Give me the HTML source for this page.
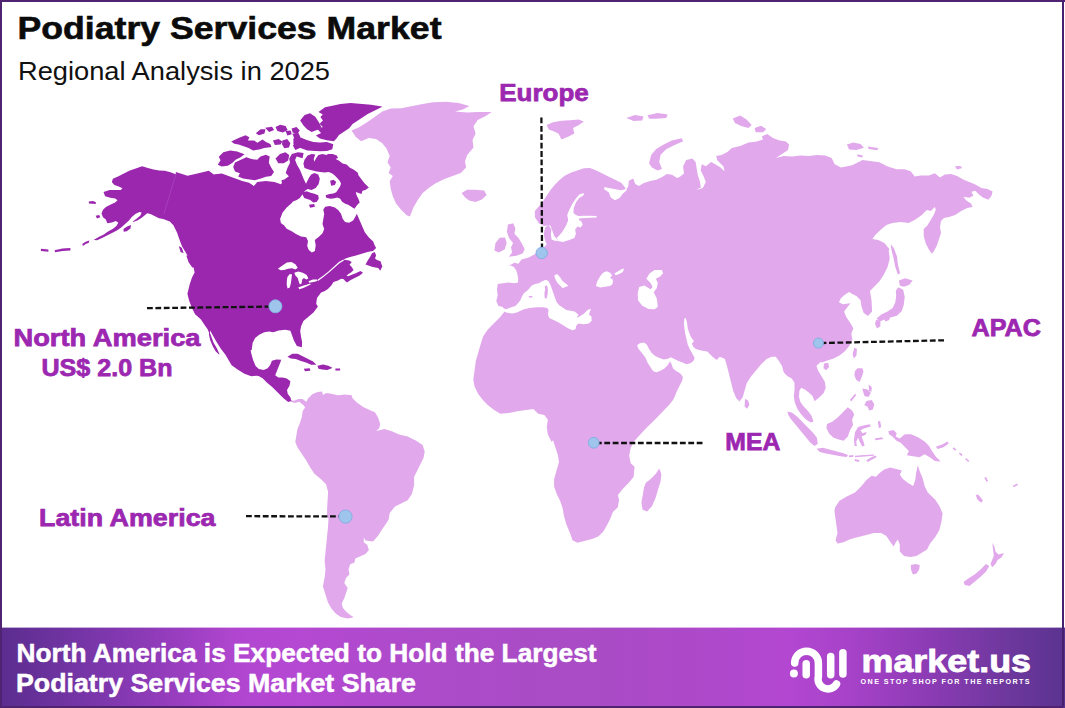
<!DOCTYPE html>
<html lang="en"><head><meta charset="utf-8"><title>Podiatry Services Market - Regional Analysis</title>
<style>
html,body{margin:0;padding:0;background:#fff;}
svg{display:block;}
text{font-family:"Liberation Sans",Arial,Helvetica,sans-serif;}
.b{font-weight:bold;}
.lab{font-weight:bold;fill:#9c27b0;font-size:24.3px;stroke:#9c27b0;stroke-width:0.75px;}
.dash{stroke:#111;stroke-width:2.3;stroke-dasharray:5.8 2.6;fill:none;}
.dot{fill:#9fc5ed;stroke:#86aee3;stroke-width:1;}
</style></head><body>
<svg width="1065" height="708" viewBox="0 0 1065 708">
<defs>
<linearGradient id="fg" x1="0" y1="0" x2="1" y2="0">
<stop offset="0" stop-color="#5b2d8f"/><stop offset="0.09" stop-color="#7a36aa"/><stop offset="0.17" stop-color="#9a3ec0"/><stop offset="0.22" stop-color="#b046cf"/><stop offset="0.27" stop-color="#b548d3"/><stop offset="0.40" stop-color="#ad4bc9"/><stop offset="0.55" stop-color="#a94cc5"/><stop offset="0.66" stop-color="#ae49ca"/><stop offset="0.74" stop-color="#b347d1"/><stop offset="0.80" stop-color="#a642c8"/><stop offset="0.86" stop-color="#913cb8"/><stop offset="0.94" stop-color="#70389f"/><stop offset="1" stop-color="#5a3390"/>
</linearGradient>
</defs>
<rect x="0" y="0" width="1065" height="708" fill="#fff"/>
<!-- map -->
<g id="map">
<path fill="#e1a9ec" fill-rule="evenodd" d="M657.6,112.9 647.6,115.2 649.1,118.7 656.2,118.7 666.2,118.1 667.7,114.6ZM642.2,120.4 643.6,116.6 635.0,115.1 626.3,118.1 633.6,121.0ZM740.2,115.5 732.8,118.6 734.9,122.9 741.2,126.0 748.5,128.1 751.7,124.9 746.5,119.6ZM755.7,132.3 763.1,132.3 766.3,129.0 761.0,125.8 754.6,128.0ZM553.0,122.2 546.7,125.1 548.7,129.4 553.0,130.9 558.6,133.7 561.5,139.4 568.6,136.5 574.4,133.6 573.0,128.0 578.5,125.2 583.8,121.4 578.5,119.4 570.0,120.2 561.5,120.8ZM651.3,154.7 649.0,163.3 651.9,167.6 657.6,170.4 662.0,169.0 659.2,161.9 660.6,154.8 666.2,149.2 674.6,145.0 683.2,141.3 681.7,138.3 671.7,140.6 663.2,144.8 656.2,149.1ZM392.8,176.1 389.7,181.3 390.7,188.8 392.8,196.2 396.0,203.6 401.3,210.0 406.7,215.3 409.9,216.4 413.2,207.9 417.4,200.5 422.7,193.1 429.0,187.8 435.3,183.6 443.8,179.3 460.8,173.0 466.1,167.6 465.0,161.2 467.2,154.9 473.5,147.5 472.5,140.1 475.6,133.7 473.5,126.3 477.7,120.0 486.2,115.8 491.6,112.1 477.7,112.0 467.1,112.4 455.0,111.4 462.9,109.4 469.4,106.1 458.6,102.9 445.9,101.8 433.2,102.3 422.6,104.0 401.4,108.2 390.8,108.6 382.3,111.4 367.5,122.0 359.0,127.3 351.5,130.5 355.8,137.0 361.2,141.2 368.6,138.0 376.0,139.1 382.3,143.3 386.5,148.6 389.7,155.9 387.5,162.3 390.7,167.6 388.6,172.9ZM481.9,199.4 486.7,195.1 484.1,190.4 475.5,189.7 467.0,189.7 461.6,193.0 464.9,197.3 469.1,200.5 475.5,202.0ZM515.4,228.6 513.3,223.3 507.9,224.4 506.9,231.7 509.0,238.0 513.1,243.1 511.0,247.3 512.1,252.4 508.9,256.7 516.3,255.7 522.6,253.6 524.7,249.3 521.6,243.1 518.5,237.9 514.4,233.7ZM499.7,237.8 495.5,243.1 494.4,250.4 498.7,252.6 504.6,249.4 506.7,243.1 505.0,237.4ZM547.2,285.4 544.8,286.1 545.1,289.7 544.4,293.2 544.7,298.1 546.5,298.8 547.6,294.6 547.9,289.7ZM532.4,296.0 528.8,296.0 528.8,297.4 532.4,297.4ZM497.7,295.3 496.3,301.0 498.4,306.0 502.0,306.7 504.7,308.8 504.8,309.3 507.7,308.7 511.2,307.3 515.4,305.9 518.2,303.1 520.4,300.3 521.8,296.7 523.9,293.2 527.4,290.4 529.5,288.2 531.7,285.4 535.2,284.0 538.7,283.3 542.3,281.2 545.8,279.8 548.6,281.2 550.7,285.4 556.4,301.7 559.2,305.2 566.3,310.1 574.7,311.6 578.3,314.4 576.9,317.9 583.9,313.7 587.5,310.1 591.0,308.7 588.9,314.4 591.4,316.5 591.7,320.7 588.9,323.6 583.2,324.3 578.3,323.6 576.2,325.7 575.5,329.2 572.6,330.3 568.4,328.5 557.8,322.1 549.3,317.9 547.9,314.4 548.6,310.1 547.2,308.0 543.7,307.3 536.6,307.3 529.5,308.0 523.9,309.2 516.8,312.5 512.6,313.4 508.4,313.0 505.5,312.3 504.6,311.6 500.2,317.0 488.0,329.3 483.1,336.6 480.7,344.0 475.8,361.1 473.3,379.4 474.6,386.8 478.2,394.1 483.1,400.3 488.0,405.2 494.2,410.1 500.3,413.7 508.9,413.0 517.4,411.3 533.3,408.9 538.2,413.7 544.3,414.9 547.9,419.8 546.7,427.1 547.9,434.4 551.6,441.9 553.0,440.2 557.8,454.7 559.0,462.0 554.1,479.1 554.1,486.4 556.6,493.8 560.2,501.1 562.7,508.5 563.9,515.8 566.3,524.3 570.0,532.9 572.5,540.3 577.4,542.7 592.1,539.1 598.3,536.6 603.2,531.7 606.8,525.6 610.5,518.2 612.9,512.1 617.8,507.3 619.1,499.9 617.9,495.0 622.7,488.9 628.8,482.8 633.7,476.7 634.5,466.8 630.7,463.2 629.2,455.4 630.7,448.1 634.1,441.3 646.3,427.9 654.1,420.6 669.0,405.1 673.0,400.0 674.4,397.5 676.6,391.8 682.2,380.5 682.9,376.9 680.1,373.3 676.5,371.2 673.0,368.4 671.6,364.2 670.1,361.2 667.9,364.9 664.4,368.4 660.9,370.5 656.7,372.2 653.2,371.2 647.6,362.8 645.5,357.8 642.0,352.9 638.4,348.7 637.1,345.2 639.8,343.2 644.0,342.5 646.7,344.5 648.9,348.8 651.7,353.0 655.2,355.9 659.5,358.0 663.8,359.4 668.0,358.7 670.8,357.3 677.8,360.8 682.1,362.2 686.3,364.3 690.6,363.2 693.5,360.8 694.7,357.9 690.0,349.4 687.9,345.1 686.5,339.5 685.0,332.5 683.9,324.0 684.3,319.1 685.6,317.8 687.0,322.6 687.7,328.3 689.1,332.5 691.2,337.5 694.0,340.9 691.9,343.8 693.3,346.7 695.9,348.9 701.1,350.6 707.3,351.6 712.5,356.8 716.7,359.9 719.8,356.8 724.9,358.9 727.0,366.1 733.2,391.0 736.3,398.3 739.5,401.5 742.7,397.2 746.9,382.7 751.0,376.5 761.4,364.0 766.6,358.9 771.7,356.8 775.8,356.8 778.9,360.9 782.0,366.1 783.6,371.9 784.5,373.2 787.6,376.3 791.7,378.4 794.4,382.5 794.6,388.7 793.8,395.9 794.8,402.4 797.3,408.7 801.1,414.3 805.6,419.3 810.7,422.6 813.5,421.5 811.4,415.6 807.6,410.4 803.5,406.3 800.4,402.1 799.0,397.0 799.4,390.8 801.2,387.8 805.2,389.8 809.4,392.9 812.5,396.0 814.6,401.3 815.4,400.4 819.5,397.2 823.7,393.1 825.8,387.8 824.7,381.6 818.5,371.2 816.4,366.1 820.5,362.0 822.2,362.6 827.4,360.5 833.6,358.4 839.9,355.3 845.1,351.1 849.2,345.9 852.4,339.6 851.3,333.4 853.4,328.2 850.3,323.0 846.1,316.7 844.1,311.6 850.4,303.2 842.9,304.2 838.9,302.2 840.9,298.2 845.1,294.5 849.2,292.0 852.2,294.1 856.4,296.1 860.5,300.2 861.5,306.4 863.6,312.7 867.8,315.9 872.1,311.6 871.5,300.2 870.0,290.9 879.3,281.6 883.5,275.3 887.6,267.0 889.7,258.7 888.7,250.4 889.5,249.2 884.4,243.1 878.3,240.0 872.4,239.0 875.3,235.1 880.4,230.1 886.4,225.1 892.5,223.0 900.5,222.0 908.6,223.1 914.7,220.0 921.8,214.9 926.8,209.9 930.9,210.9 934.8,207.0 935.8,209.8 933.8,214.8 927.7,224.9 923.7,229.0 923.7,236.1 925.7,243.2 928.7,249.3 931.8,253.8 933.9,251.3 937.0,245.2 941.0,233.1 940.0,227.0 941.0,221.0 944.0,218.0 949.0,217.0 955.1,215.0 961.2,210.9 967.2,207.9 972.4,206.9 971.3,203.7 966.3,200.6 963.4,196.8 969.2,197.8 973.4,195.7 971.4,191.7 975.2,190.7 979.3,194.7 983.3,197.8 988.4,199.8 991.5,195.7 992.6,191.6 987.4,188.9 981.4,188.1 975.3,184.5 963.2,179.4 957.1,176.0 951.0,173.9 944.9,174.4 939.9,177.4 934.9,173.3 928.8,175.4 920.7,175.4 914.7,176.4 910.7,171.3 904.6,169.3 896.5,169.3 887.7,166.4 879.3,162.2 862.6,160.1 852.2,165.3 840.9,167.4 834.7,164.3 831.6,158.0 825.3,155.5 817.0,154.9 808.7,155.9 800.4,155.5 792.1,156.4 783.8,155.9 776.0,157.9 788.0,149.9 789.1,144.6 785.9,141.4 779.7,140.4 773.4,138.3 767.2,134.1 761.9,136.3 762.9,139.4 756.8,141.4 748.5,142.5 740.2,146.0 731.8,148.1 727.7,151.8 721.5,154.9 716.2,156.0 717.3,160.2 723.5,166.5 724.5,171.3 720.5,167.4 715.3,164.3 711.1,162.1 705.9,166.3 701.7,164.2 700.7,170.6 703.8,176.8 705.8,182.0 702.8,188.1 696.3,190.0 700.9,187.2 699.8,180.9 697.7,174.7 695.7,162.2 692.5,158.6 686.2,160.1 683.0,166.4 684.0,173.6 679.9,176.7 677.2,178.0 672.0,174.7 666.8,173.9 662.6,176.8 656.4,179.7 650.2,181.0 643.9,183.0 638.8,185.9 635.3,183.9 633.2,178.6 628.9,180.8 628.3,186.0 626.4,189.7 626.5,190.6 623.2,193.3 619.5,198.1 614.9,200.2 610.8,197.5 608.7,192.3 604.1,189.2 604.5,187.1 608.7,188.1 621.1,190.2 625.8,188.9 624.7,187.0 621.2,182.8 596.3,170.4 590.0,167.9 583.8,168.3 571.3,172.5 565.0,175.6 559.8,179.7 554.6,184.9 550.5,190.1 542.2,202.6 534.9,210.9 534.9,217.2 539.1,223.5 544.3,226.0 548.1,225.2 545.1,227.5 543.8,233.8 544.7,239.6 546.7,244.5 543.2,247.8 534.3,254.4 528.7,257.6 521.5,259.6 518.4,263.8 514.2,262.7 510.3,265.1 509.7,264.8 509.0,266.1 510.3,265.3 513.9,267.1 516.0,269.9 517.4,274.1 518.1,278.4 518.1,282.5 514.0,283.2 508.4,282.5 497.7,283.9 497.0,289.7ZM575.9,202.6 573.8,207.8 573.4,213.0 575.9,215.1 578.6,216.1 583.8,215.7 590.0,215.7 596.6,216.1 596.6,217.6 590.0,217.8 578.8,218.6 579.2,220.3 581.3,221.3 582.7,224.4 580.7,227.6 577.6,226.5 575.1,229.6 575.9,233.8 574.4,237.9 569.2,240.0 563.0,242.1 557.8,241.0 556.8,237.9 559.9,234.8 563.0,230.7 566.1,225.5 568.2,220.3 567.2,215.1 569.2,209.9 572.4,203.7 575.9,198.5 579.6,194.3 583.2,193.3 584.4,193.9 582.7,196.0 579.2,198.1ZM557.6,241.2 553.9,240.6 551.6,239.6 551.0,234.8 551.4,229.6 548.5,225.1 550.6,225.9 554.3,236.3 556.4,238.3ZM619.2,274.1 615.7,275.3 614.3,273.4 621.4,269.2 624.2,268.5 622.8,272.0ZM610.1,272.7 612.2,275.5 610.1,277.7 612.9,279.8 612.6,284.0 610.1,286.1 600.2,287.5 595.9,286.1 597.3,281.2 600.2,276.2 603.0,272.7 606.5,271.3ZM568.4,286.1 565.6,286.8 562.7,288.2 557.1,282.6 555.3,279.1 554.3,275.5 557.1,274.1 559.9,276.9 562.7,281.2 566.3,284.0ZM663.0,273.6 659.9,276.7 655.8,278.8 657.8,282.9 656.8,288.1 653.7,292.3 656.8,298.5 657.8,306.8 654.7,309.3 648.5,308.9 642.3,305.8 638.1,300.6 637.7,293.3 639.2,287.1 644.3,285.6 650.6,289.2 652.6,287.1 650.6,282.9 646.4,278.8 649.5,273.6 654.7,269.9 662.0,269.9ZM826.1,370.3 829.1,367.1 828.2,362.8 823.9,363.5 823.5,368.2ZM749.4,404.4 747.9,400.2 745.0,399.1 744.6,406.6 747.2,408.7ZM788.2,414.7 790.7,418.8 810.4,442.7 814.6,445.9 817.8,443.7 816.8,437.4 812.6,432.2 797.0,416.6 791.8,412.5 787.5,411.4ZM658.2,488.9 660.6,481.6 661.4,474.2 659.3,468.6 655.6,474.1 650.7,479.0 645.8,482.7 644.0,487.6 642.8,495.0 641.4,502.3 642.6,509.7 647.1,511.5 652.1,506.0 655.7,497.5ZM310.2,467.4 314.4,473.7 320.8,479.0 326.0,484.3 328.1,491.7 327.1,508.6 327.1,517.1 328.5,518.5 328.0,526.9 324.6,560.8 325.5,569.3 324.6,577.8 322.9,586.3 325.5,594.8 328.0,602.4 331.4,608.4 335.7,613.5 340.8,616.9 347.6,618.6 353.8,617.2 350.2,615.0 346.0,611.6 342.6,607.4 341.8,603.2 344.3,598.2 347.7,588.0 344.3,582.9 346.0,577.9 349.4,574.4 348.6,569.3 350.2,564.3 354.5,562.6 355.3,558.4 365.5,554.1 368.9,549.9 367.2,544.7 363.8,542.2 363.8,537.5 365.4,540.6 373.1,541.5 378.2,535.5 382.5,528.7 386.7,522.8 388.7,519.2 389.7,512.9 395.0,506.6 407.7,500.2 412.0,493.8 414.1,485.3 414.1,476.9 423.6,457.8 424.7,451.4 422.6,445.0 416.2,440.7 407.7,436.5 399.2,434.4 391.8,431.2 384.4,429.1 376.2,431.1 379.2,428.2 380.2,423.9 378.1,417.5 374.9,412.2 369.6,410.0 363.2,406.9 356.9,402.6 352.7,398.4 351.6,395.2 345.2,394.6 337.8,395.2 331.4,393.7 326.1,393.1 323.0,395.1 322.0,391.6 317.6,392.0 312.3,394.2 308.0,398.4 305.7,403.1 306.2,401.7 302.7,399.1 298.5,399.1 294.2,400.7 290.7,400.2 290.7,401.8 295.1,403.0 299.3,401.8 303.5,405.2 305.1,407.6 302.7,411.1 301.7,417.5 299.6,423.8 297.4,429.2 295.3,441.9 297.4,447.2 305.9,459.9ZM849.1,149.5 856.4,149.9 863.9,147.8 860.6,143.9 853.3,142.4 846.9,144.6ZM877.2,150.3 878.4,148.1 867.7,146.6 868.8,148.9ZM857.4,156.5 862.3,157.4 862.8,155.6 857.4,154.3ZM853.9,358.5 856.5,355.2 856.9,348.9 854.3,347.8 852.6,354.2ZM863.5,371.7 862.4,368.2 857.5,368.2 855.0,371.0 854.4,375.2 856.1,379.8 859.7,382.0 861.8,376.7ZM868.5,384.8 869.1,390.8 871.4,391.9 871.8,387.0ZM868.6,397.1 870.8,392.8 867.6,389.6 862.2,388.5 864.4,396.0ZM851.4,401.3 856.3,394.9 855.1,393.7 849.8,400.1ZM874.3,404.2 871.8,400.0 866.4,401.0 864.3,405.3 867.5,406.4 869.2,410.6 872.8,409.5ZM847.8,407.2 837.4,417.7 832.2,421.8 827.0,423.9 826.4,428.1 829.1,433.4 833.2,437.5 838.5,439.6 843.7,440.7 847.9,436.5 850.0,430.2 853.1,425.0 852.1,419.8 854.2,414.6 852.1,410.4ZM877.8,421.8 878.9,428.3 881.2,427.1 880.1,420.7ZM866.7,432.1 862.4,433.2 860.4,430.2 864.5,428.2 870.8,426.5 869.7,424.3 863.4,425.5 858.1,427.0 855.0,432.2 854.0,439.5 854.6,445.9 856.9,445.9 856.2,441.6 858.2,437.7 859.6,441.6 862.3,446.5 864.6,445.8 863.5,441.6 861.5,436.5 865.6,434.8ZM875.8,440.3 883.3,439.0 882.1,437.3 874.6,438.4ZM840.6,456.2 846.8,456.9 848.0,455.0 842.7,452.9 830.2,449.8 822.9,447.7 816.5,448.8 819.8,452.1 826.0,453.5ZM873.9,454.4 861.3,455.2 855.0,455.8 855.0,457.3 861.3,456.7 873.9,455.8ZM849.2,457.3 853.6,456.8 853.1,455.0 848.7,455.4ZM867.5,461.9 871.7,459.8 876.4,457.2 875.9,455.4 871.7,457.1 866.4,460.3ZM854.6,461.0 858.9,461.9 859.4,460.2 855.0,459.1ZM957.0,169.5 962.3,168.0 960.2,165.9 954.9,166.3ZM897.9,274.4 900.1,273.3 898.0,264.9 897.0,256.6 893.9,248.3 890.6,243.9 891.6,250.4 893.7,258.7 895.3,267.0ZM899.9,285.7 904.2,286.8 909.4,284.7 912.6,280.4 905.2,278.3 898.9,280.4ZM903.2,289.7 898.3,287.2 895.8,290.8 896.2,296.0 895.3,302.2 892.7,308.0 887.5,311.5 881.3,314.6 876.6,318.4 878.6,320.4 876.1,319.8 875.0,324.1 877.1,328.4 880.4,326.2 880.4,321.2 884.5,319.4 885.4,321.5 889.3,320.0 889.7,317.7 896.9,315.8 901.8,311.0 903.8,304.8 904.7,297.1ZM937.7,449.0 943.4,447.3 948.6,443.7 947.5,441.5 942.2,444.6 935.9,446.7ZM936.1,457.1 932.0,450.9 928.9,445.7 924.7,441.5 918.4,437.4 911.2,434.2 904.9,434.2 899.7,438.4 895.7,436.4 896.7,433.3 893.5,430.1 888.2,431.2 889.3,434.4 892.4,436.5 896.5,440.7 900.7,442.7 908.9,451.0 906.8,455.2 919.5,457.3 924.6,454.2 929.8,457.3 935.0,461.0 940.8,461.4ZM953.7,447.3 952.7,448.5 955.1,450.7 956.3,449.5ZM958.9,453.7 961.4,455.9 962.6,454.7 959.9,452.5ZM965.2,459.3 968.2,462.1 969.4,460.9 966.1,458.1ZM984.3,477.5 986.4,481.8 988.1,481.1 985.9,477.0ZM1012.9,485.8 1013.6,487.2 1017.9,485.0 1017.2,483.6ZM975.6,494.3 977.2,499.2 980.8,502.5 982.5,501.8 981.8,501.0 983.1,500.4 978.2,494.4 976.4,495.1ZM893.7,546.6 895.8,542.3 897.8,539.4 899.8,544.4 899.8,551.6 904.0,555.9 910.3,556.9 916.5,555.9 927.0,549.6 930.1,543.4 935.3,537.1 939.4,529.9 941.5,521.5 942.6,513.2 939.4,505.9 935.3,499.7 927.8,492.4 924.7,486.2 922.6,477.9 919.9,471.7 917.8,465.3 916.2,472.7 915.2,480.0 913.2,486.1 908.1,483.0 902.9,478.9 899.8,474.8 901.9,470.6 890.4,467.4 884.1,469.5 879.9,472.7 875.8,476.8 871.7,475.7 866.4,479.9 861.3,486.2 855.0,492.4 846.7,496.5 839.5,500.7 835.3,506.9 834.4,511.1 837.5,532.9 835.5,540.2 837.6,543.4 842.9,542.4 850.1,539.2 857.4,537.2 874.0,533.0 881.2,533.0 886.3,536.1 890.5,542.3ZM992.3,543.1 993.8,555.7 990.5,564.1 992.2,567.3 995.5,564.1 997.5,560.0 1001.7,557.3 1003.9,552.9 998.5,554.6 995.5,551.6 994.4,546.4ZM915.5,564.0 910.8,565.0 911.2,570.3 912.9,574.6 916.6,573.5 919.3,569.3 919.7,565.0ZM968.3,578.5 963.5,582.1 964.8,584.9 969.5,586.0 980.9,576.6 986.1,571.4 989.3,566.1 986.0,563.9 980.8,569.2 974.6,574.4Z"/>
<path fill="#9b27af" fill-rule="evenodd" d="M275.5,127.0 277.4,130.9 282.8,132.4 287.6,129.9 285.6,126.0 280.2,124.7ZM269.1,131.9 274.1,129.9 272.0,126.8 265.1,127.8ZM259.0,135.3 264.5,133.4 265.5,129.3 260.6,129.3 255.8,133.2ZM274.9,144.9 280.5,144.5 282.3,141.8 282.0,144.2 284.3,148.3 289.0,147.6 290.4,143.2 287.2,138.9 282.4,140.5 282.3,141.4 278.6,139.0 272.9,140.5ZM264.2,147.9 271.5,147.0 270.4,143.9 266.0,142.1 262.5,139.4 257.4,142.8 254.1,140.4 247.9,140.4 249.4,137.2 245.5,135.2 238.6,137.9 231.2,141.6 234.3,143.7 238.6,144.5 248.7,147.9 253.1,150.5 259.2,149.6ZM280.0,154.0 275.5,158.5 278.3,163.2 283.8,163.2 288.2,160.5 289.2,155.0 285.4,152.2ZM232.2,163.1 235.6,159.7 240.6,157.2 244.6,154.2 237.1,151.4 230.2,150.5 223.3,152.3 218.8,156.8 220.5,160.2 217.8,164.7 221.7,166.6 227.8,165.7ZM254.9,180.2 260.9,178.4 265.9,176.7 271.2,175.9 274.0,172.1 271.3,167.7 268.8,162.7 269.7,156.6 265.9,154.7 260.5,156.5 257.2,159.8 251.5,159.0 246.3,157.3 240.3,159.9 235.0,162.5 233.2,167.0 235.0,171.6 239.9,173.2 238.2,176.6 242.9,178.4ZM281.9,183.0 280.9,184.3 274.4,181.9 265.8,181.0 257.2,181.9 253.9,186.0 249.1,182.8 242.2,181.1 221.8,173.4 214.9,174.3 213.8,174.6 208.8,170.8 197.4,173.4 187.5,175.8 175.9,172.0 175.7,174.2 170.5,172.2 164.8,170.8 159.1,170.5 153.5,169.4 147.9,168.0 142.1,166.2 129.3,170.8 118.0,176.5 112.9,178.7 111.8,181.9 114.4,184.9 118.7,186.4 122.4,188.2 120.8,189.9 109.6,189.9 103.5,192.1 105.1,196.2 110.3,197.7 115.2,198.4 117.5,200.2 115.1,202.6 110.2,204.7 105.9,206.9 103.0,209.8 101.5,213.6 103.0,217.3 105.8,219.5 107.3,223.2 111.9,222.4 115.9,221.1 118.3,222.8 116.4,226.0 113.0,228.8 108.0,231.6 103.8,234.4 99.6,236.5 94.0,239.7 94.1,240.0 97.0,240.2 102.1,237.9 116.9,230.6 121.2,227.4 129.0,220.6 131.8,216.9 135.3,213.9 139.4,211.9 141.6,212.4 140.4,215.4 136.2,218.9 132.8,221.5 133.1,221.9 137.4,220.6 141.7,217.7 147.2,213.3 150.5,213.9 159.0,218.2 163.2,218.9 169.8,221.6 173.4,225.2 177.1,232.7 179.6,240.1 182.1,246.4 185.9,252.7 187.6,256.2 186.6,255.5 186.4,255.7 188.6,262.2 192.3,267.4 193.6,267.6 194.6,272.4 192.1,277.3 189.8,284.1 187.4,293.7 189.1,300.6 191.7,307.4 195.1,314.3 201.0,319.4 204.4,324.8 207.8,329.5 209.1,332.9 208.9,334.4 210.3,340.5 212.9,346.4 215.8,351.6 219.1,354.5 219.5,354.2 217.0,348.6 213.6,342.7 209.9,332.8 210.1,330.6 216.3,341.4 220.5,348.2 225.6,355.0 231.6,365.2 237.6,369.5 244.4,373.8 251.3,376.3 256.4,375.8 258.5,376.1 262.6,378.3 266.8,382.5 271.9,386.7 283.8,398.6 288.2,402.1 291.3,401.1 290.4,397.3 287.8,393.9 287.0,389.9 289.5,385.7 290.4,381.2 286.8,378.4 282.4,377.6 278.3,377.6 275.2,375.3 280.2,362.8 281.2,359.8 276.4,359.4 271.9,360.7 270.2,365.1 267.7,368.3 263.7,369.9 258.8,369.1 255.6,365.9 253.1,360.0 251.4,354.1 250.6,350.3 251.7,350.0 252.6,343.0 255.1,338.1 259.2,334.7 264.2,332.2 269.1,331.4 273.4,332.3 278.6,330.6 285.2,329.7 290.4,330.7 293.9,340.5 296.9,346.1 301.9,347.3 302.1,342.0 301.1,336.9 300.2,331.0 301.2,326.1 303.4,321.1 313.5,312.6 317.9,306.4 316.2,303.8 317.0,298.1 321.1,292.4 324.4,291.2 327.9,288.9 331.3,285.5 333.5,282.1 338.0,280.5 341.2,278.8 343.8,279.3 344.9,280.7 347.0,282.5 350.7,280.1 359.7,275.6 363.0,272.7 360.4,270.9 355.7,273.3 351.2,274.9 348.0,276.3 346.6,275.8 348.2,274.2 351.0,272.5 353.6,270.0 351.7,266.9 349.6,264.8 351.7,261.9 349.2,260.5 344.0,259.8 344.3,259.1 349.2,257.3 356.0,255.6 368.4,251.7 373.0,251.1 376.1,248.0 374.3,244.4 373.2,241.6 368.9,237.4 364.8,232.3 356.9,213.9 356.7,213.9 355.6,216.2 353.1,220.4 349.1,222.8 345.1,222.0 342.7,218.8 341.0,213.7 338.4,210.2 334.9,207.6 329.7,205.9 325.2,206.8 323.3,209.6 324.2,213.9 322.5,224.1 324.2,229.1 322.5,233.2 319.2,236.5 314.8,240.0 315.7,245.3 314.9,250.9 311.9,252.4 308.8,250.1 307.2,246.1 308.0,241.0 306.2,237.3 301.0,236.4 296.0,233.9 291.7,231.3 286.7,228.8 284.2,225.5 280.9,223.0 280.1,219.0 282.6,212.4 286.7,207.4 291.8,203.1 292.9,201.4 296.8,199.9 299.8,197.9 302.8,194.0 302.6,194.7 304.2,197.9 310.2,199.9 313.3,202.5 316.6,201.9 318.8,198.7 318.2,195.3 314.5,193.7 310.6,192.8 306.5,191.2 304.1,192.0 304.8,191.0 307.6,189.1 311.5,190.1 315.7,188.0 318.7,183.9 319.8,178.8 318.2,174.5 314.4,172.9 311.2,174.5 309.1,177.6 306.0,183.8 303.9,179.6 299.9,169.7 297.0,164.8 295.1,160.0 296.6,156.5 302.6,158.2 303.6,153.1 298.0,152.2 291.9,154.0 289.2,158.5 290.0,162.7 287.5,167.7 285.7,173.1 288.9,176.3 284.3,179.4 281.5,180.3ZM280.7,270.3 277.9,268.8 282.4,265.4 286.9,262.6 291.5,262.0 295.4,264.3 297.7,267.7 295.4,269.4 292.0,268.2 288.1,268.8 284.1,269.9ZM323.7,276.8 318.0,280.9 317.5,279.8 323.1,275.7 328.8,271.2 338.9,262.1 343.4,259.4 344.0,260.6 339.5,263.3 329.3,272.3ZM297.7,277.9 295.4,275.6 294.3,272.8 298.2,271.6 302.8,272.8 306.7,275.0 308.4,278.4 306.2,279.5 303.9,277.9 302.2,279.5 301.6,283.5 299.9,284.6 298.8,281.8ZM309.5,282.7 308.4,281.2 312.9,279.5 316.9,279.5 317.5,280.9 313.5,282.0ZM286.7,284.6 286.9,280.1 287.5,276.7 289.8,273.9 292.0,274.5 290.9,282.9 289.8,287.5 287.5,288.6ZM299.4,289.2 298.2,287.5 302.8,285.8 307.3,284.6 310.1,283.5 310.7,284.6 303.3,288.0ZM88.7,201.6 89.0,203.5 95.6,204.1 96.0,202.3 92.8,201.0ZM100.3,217.2 99.3,215.1 95.6,215.8 97.0,218.4ZM127.1,226.6 123.4,228.9 123.7,231.7 126.8,231.2 130.5,228.6 131.0,224.9ZM82.4,243.7 82.8,246.0 85.8,244.0 88.8,242.8 89.3,240.5 86.2,241.4ZM178.9,246.4 180.7,252.3 183.6,253.1 181.8,247.7 179.1,246.3ZM54.5,250.2 55.2,252.2 62.5,251.1 70.4,250.4 70.4,248.1 62.4,248.6ZM48.4,249.6 40.9,248.8 40.9,250.9 48.4,251.7ZM315.3,116.7 310.0,113.2 304.6,115.0 300.1,120.4 303.7,125.8 307.1,129.2 311.6,131.9 316.9,130.1 321.5,127.4 319.8,124.1 322.8,127.1 317.7,129.6 321.1,133.0 315.9,135.6 319.9,138.6 326.8,140.3 333.8,141.2 336.5,138.5 339.0,135.1 349.2,128.3 352.6,124.1 367.7,114.0 381.9,106.9 381.9,106.6 371.0,104.8 350.6,103.1 340.4,103.9 333.6,105.6 325.0,107.3 318.5,112.0 322.8,114.6 320.4,117.0 322.9,120.4 319.6,123.7 318.7,121.9ZM292.6,132.6 295.1,133.2 292.4,133.7 294.2,138.2 293.4,138.4 293.4,144.4 294.3,144.9 292.7,145.2 295.3,150.1 299.9,148.1 299.8,147.8 307.3,150.5 320.1,151.3 326.9,151.0 332.3,149.2 333.3,144.2 326.9,142.1 320.1,142.6 313.4,142.1 306.7,140.0 299.6,137.0 300.3,136.8 298.3,132.7 298.1,132.7 299.8,130.6 296.5,127.1 291.6,128.6ZM291.8,134.3 290.7,130.5 285.6,131.1 287.3,135.5ZM328.5,172.1 331.4,173.1 334.3,175.0 337.2,177.9 339.6,180.8 341.0,183.6 340.1,186.4 336.2,192.2 333.4,193.6 329.5,194.1 325.6,195.2 326.3,197.8 330.5,198.8 334.6,198.3 337.4,197.4 340.2,198.7 342.1,201.7 345.2,203.7 348.2,204.7 354.4,208.8 357.6,204.6 359.7,202.5 358.6,199.2 356.6,195.3 355.8,192.1 361.5,194.0 362.5,190.8 365.4,189.9 368.8,187.6 364.5,183.3 358.6,175.5 357.6,172.5 353.5,169.4 349.6,167.4 346.6,164.4 342.6,163.4 338.7,160.5 335.6,158.9 338.0,158.1 336.8,155.6 332.6,154.0 328.0,154.0 326.5,155.0 322.6,154.0 318.4,155.0 315.9,158.6 314.4,161.7 313.7,158.9 315.3,154.6 311.7,154.0 307.6,155.5 304.5,159.7 303.4,163.8 304.5,168.1 308.7,169.6 316.6,171.6 324.6,172.6ZM331.2,185.8 334.8,184.9 336.2,182.0 333.6,179.7 330.1,180.8ZM314.9,206.8 314.2,204.1 308.9,204.7 310.2,207.7ZM377.0,260.0 375.0,258.5 376.1,255.2 374.7,251.9 372.0,253.3 370.2,256.7 368.0,260.1 365.5,264.5 372.7,266.9 378.2,268.0 380.2,270.7 382.3,266.6 380.5,261.2ZM316.1,364.8 316.2,364.6 313.1,361.5 297.7,353.8 292.4,353.8 287.5,356.8 290.7,358.5 295.8,358.9 300.9,360.9 306.0,362.6 311.1,364.8ZM328.3,365.7 323.1,364.5 317.4,365.8 318.5,368.7 322.1,369.4 327.3,369.9 332.3,367.9 332.3,367.8ZM340.1,368.6 335.4,368.6 335.4,370.4 340.1,370.4ZM309.8,368.2 303.8,368.8 305.0,371.3 310.3,370.7Z"/>
</g>
<path d="M176.2,173.5 L163.8,214" stroke="#b04cc2" stroke-width="0.6" fill="none"/>
<!-- footer -->
<rect x="0" y="627.6" width="1065" height="80.4" fill="url(#fg)"/>
<!-- border -->
<rect x="0" y="0" width="1065" height="2" fill="#4f2272"/><rect x="0" y="0" width="2" height="708" fill="#4f2272"/><rect x="1062" y="0" width="2" height="706.5" fill="#47206f"/><rect x="0" y="706" width="1063" height="2" fill="#4f2272"/>
<!-- title -->
<text class="b" x="17.5" y="38.8" font-size="32" fill="#0b0b0b" stroke="#0b0b0b" stroke-width="0.6" textLength="424" lengthAdjust="spacingAndGlyphs">Podiatry Services Market</text>
<text x="18" y="80" font-size="25.2" fill="#111" textLength="312" lengthAdjust="spacingAndGlyphs">Regional Analysis in 2025</text>
<!-- leader lines -->
<path class="dash" d="M147,308.2 L270,306.6"/>
<path class="dash" d="M541.4,117.5 L542,248"/>
<path class="dash" d="M246,516.2 L339,516.4"/>
<path class="dash" d="M702.5,443 L598,443"/>
<path class="dash" d="M944,340.3 L823,343"/>
<circle class="dot" cx="275.4" cy="306.3" r="6.5"/>
<circle class="dot" cx="541.7" cy="253" r="5.7"/>
<circle class="dot" cx="345.5" cy="516.6" r="6.6"/>
<circle class="dot" cx="593.7" cy="442.7" r="5.4"/>
<circle class="dot" cx="818.4" cy="343.1" r="5"/>
<!-- labels -->
<text class="lab" x="499.3" y="101.0" textLength="89.5" lengthAdjust="spacingAndGlyphs">Europe</text>
<text class="lab" x="13.5" y="346.1" textLength="187" lengthAdjust="spacingAndGlyphs">North America</text>
<text class="lab" x="41.5" y="375.6" textLength="131" lengthAdjust="spacingAndGlyphs">US$ 2.0 Bn</text>
<text class="lab" x="39" y="525.5" textLength="176.5" lengthAdjust="spacingAndGlyphs">Latin America</text>
<text class="lab" x="725.3" y="450.0" textLength="55" lengthAdjust="spacingAndGlyphs">MEA</text>
<text class="lab" x="971.5" y="336.3" textLength="69.5" lengthAdjust="spacingAndGlyphs">APAC</text>
<!-- footer text -->
<text class="b" x="16.5" y="661.9" font-size="25.6" fill="#fff" stroke="#fff" stroke-width="0.5" textLength="580" lengthAdjust="spacingAndGlyphs">North America is Expected to Hold the Largest</text>
<text class="b" x="16" y="691.8" font-size="25.6" fill="#fff" stroke="#fff" stroke-width="0.5" textLength="400" lengthAdjust="spacingAndGlyphs">Podiatry Services Market Share</text>
<!-- logo -->
<g fill="none" stroke="#fff" stroke-width="7.5" stroke-linecap="round" stroke-linejoin="round">
<path d="M794.7,663 A11.85,11.85 0 0 1 818.4,663 L818.4,676.4 A9.9,9.9 0 0 0 836.5,684"/>
<path d="M806.2,663.7 V674.8"/>
<path d="M830.7,656.6 V674.8"/>
<path d="M842.9,652.7 V674"/>
</g>
<circle cx="793.9" cy="673.6" r="4" fill="#fff"/>
<text class="b" x="861.5" y="671.6" font-size="32" fill="#fff" stroke="#fff" stroke-width="0.8" textLength="169.5" lengthAdjust="spacingAndGlyphs">market.us</text>
<text class="b" x="860.6" y="683.9" font-size="7.2" fill="#fff" textLength="169" lengthAdjust="spacing">ONE STOP SHOP FOR THE REPORTS</text>
</svg>
</body></html>
